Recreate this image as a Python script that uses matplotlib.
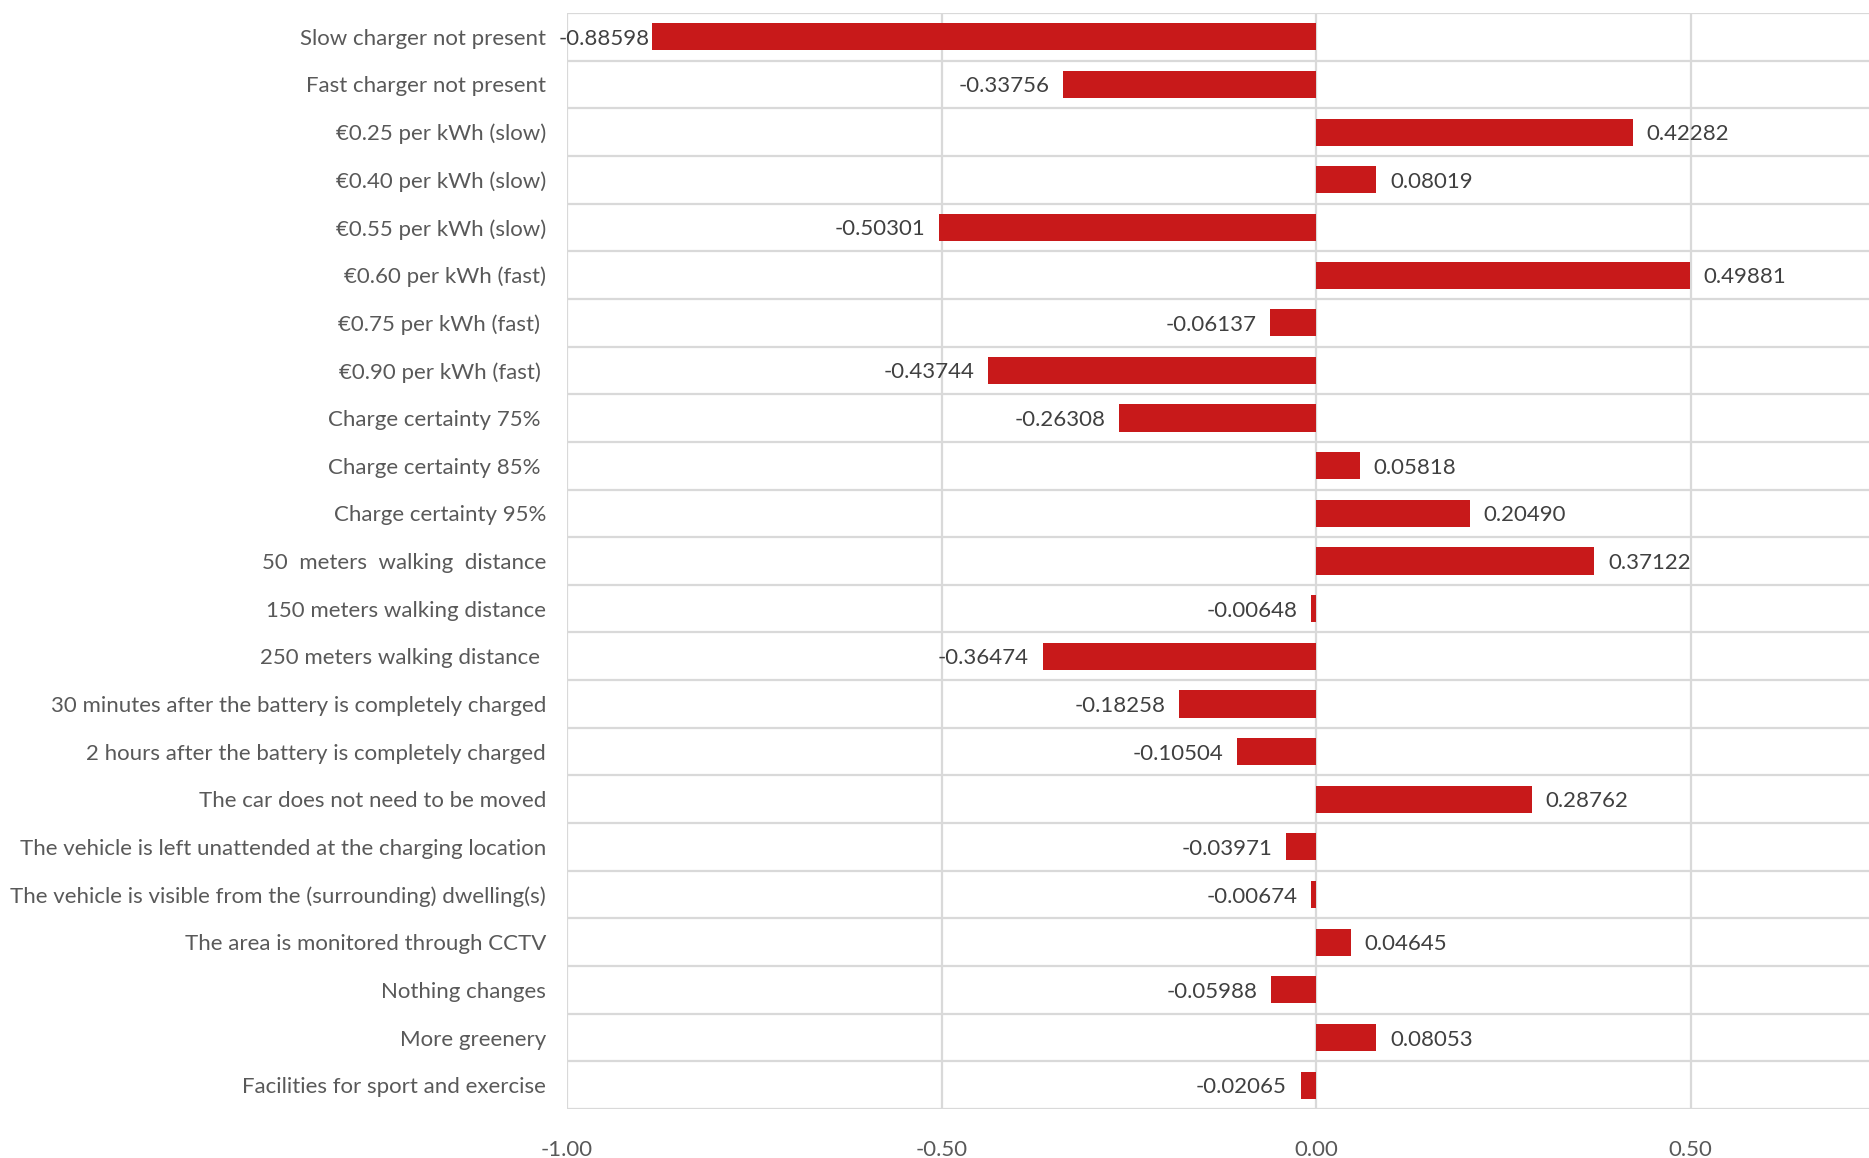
import matplotlib
matplotlib.use('Agg')
import matplotlib.pyplot as plt
import numpy as np

plt.rcParams['font.family'] = ['Lato', 'DejaVu Sans']

# Attribute levels (top to bottom) and their estimated coefficients
levels = [
    'Slow charger not present',
    'Fast charger not present',
    '€0.25 per kWh (slow)',
    '€0.40 per kWh (slow)',
    '€0.55 per kWh (slow)',
    '€0.60 per kWh (fast)',
    '€0.75 per kWh (fast) ',
    '€0.90 per kWh (fast) ',
    'Charge certainty 75% ',
    'Charge certainty 85% ',
    'Charge certainty 95%',
    '50  meters  walking  distance',
    '150 meters walking distance',
    '250 meters walking distance ',
    '30 minutes after the battery is completely charged',
    '2 hours after the battery is completely charged',
    'The car does not need to be moved',
    'The vehicle is left unattended at the charging location',
    'The vehicle is visible from the (surrounding) dwelling(s)',
    'The area is monitored through CCTV',
    'Nothing changes',
    'More greenery',
    'Facilities for sport and exercise',
]
coefs = [
    -0.88598, -0.33756, 0.42282, 0.08019, -0.50301, 0.49881, -0.06137,
    -0.43744, -0.26308, 0.05818, 0.20490, 0.37122, -0.00648, -0.36474,
    -0.18258, -0.10504, 0.28762, -0.03971, -0.00674, 0.04645, -0.05988,
    0.08053, -0.02065,
]
xticks = [-1.0, -0.5, 0.0, 0.5, 1.0]

bar_color = '#c8191a'
grid_color = '#d9d9d9'
label_color = '#595959'
value_color = '#404040'
fs = 16

fig = plt.figure(figsize=(18.69, 11.58), dpi=100)
ax = fig.add_axes([567 / 1869, 49 / 1158, 1 - 567 / 1869, 1096 / 1158])

y = np.arange(len(levels))
ax.barh(y, coefs, height=0.57, color=bar_color, zorder=3)

# vertical value gridlines and horizontal category separators
for xv in xticks:
    ax.axvline(xv, color=grid_color, lw=1.6, zorder=1)
for yb in np.arange(-0.5, len(levels), 1.0):
    ax.axhline(yb, color=grid_color, lw=1.6, zorder=1)

for s in ax.spines.values():
    s.set_visible(False)

ax.set_xticks(xticks)
ax.set_xticklabels([f'{v:.2f}' for v in xticks])
ax.set_yticks(y)
ax.set_yticklabels(levels)
ax.tick_params(axis='both', length=0, labelsize=fs, labelcolor=label_color)
ax.tick_params(axis='y', pad=15)
ax.tick_params(axis='x', pad=22)

ax.set_xlim(-1.0, 0.738)
ax.set_ylim(len(levels) - 0.5, -0.5)

# value labels next to each bar
texts = []
for yi, v in zip(y, coefs):
    off = 10 if v >= 0 else -10
    t = ax.annotate(f'{v:.5f}', xy=(v, yi), xytext=(off, 0),
                    textcoords='offset points', ha='left' if v >= 0 else 'right',
                    va='center_baseline', fontsize=fs, color=value_color, zorder=4)
    texts.append(t)

# labels that would run past the left edge get pulled in tight to the bar
fig.canvas.draw()
r = fig.canvas.get_renderer()
ax_left = ax.get_window_extent(r).x0
for t in texts:
    bb = t.get_window_extent(r)
    if bb.x0 < ax_left:
        t.set_position((-2, 0))

fig.savefig('out.png', dpi=100)
